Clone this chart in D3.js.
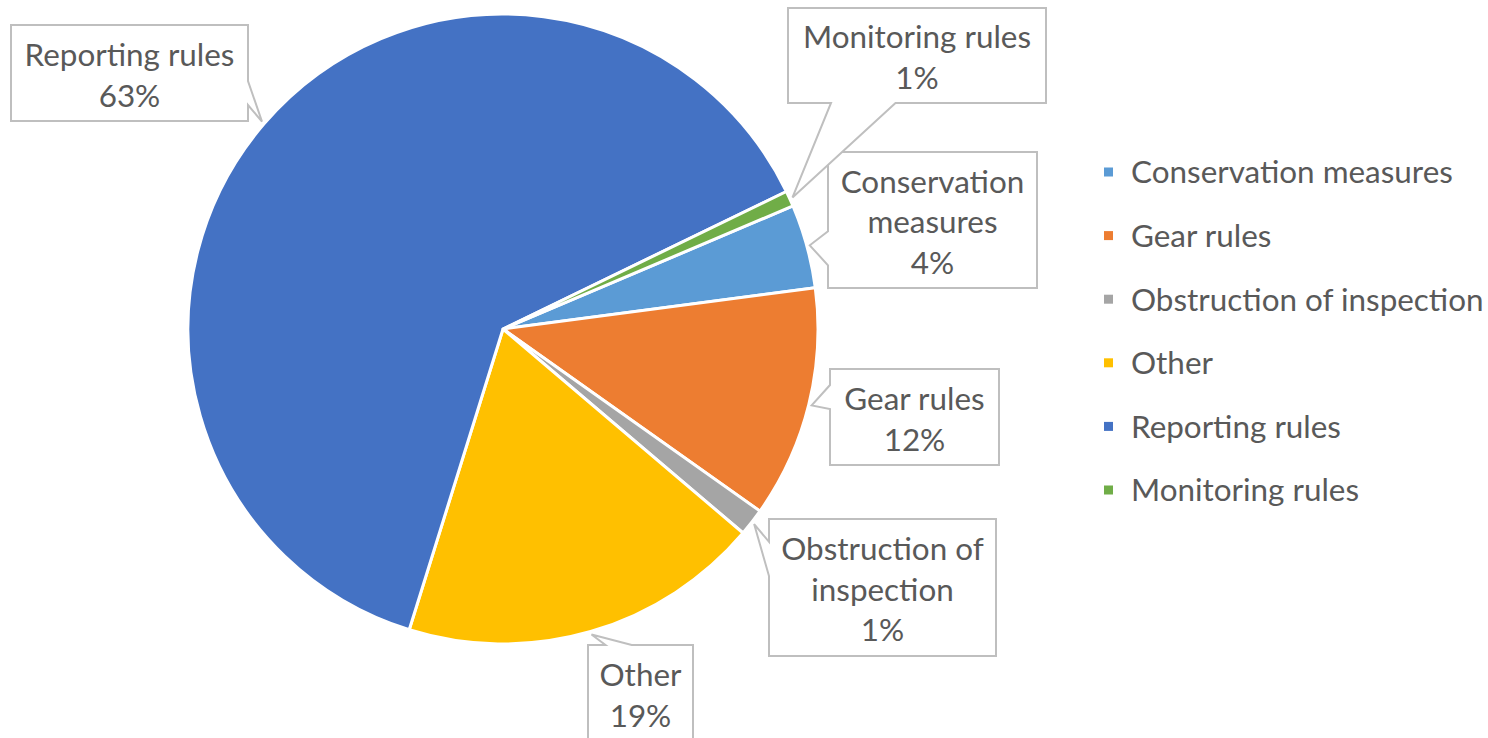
<!doctype html>
<html>
<head>
<meta charset="UTF-8">
<title>Infringements by type</title>
<script src="https://d3js.org/d3.v7.min.js"></script>
<style>
  body { margin: 0; background: #fff; }
  text { font-family: Lato, "Open Sans", sans-serif; fill: #595959; }
</style>
</head>
<body>
<script>
var categories = ["Conservation measures", "Gear rules", "Obstruction of inspection", "Other", "Reporting rules", "Monitoring rules"];
var shares = [4.3, 11.9, 1.4, 18.6, 63.0, 0.8];
var colors = ["#5B9BD5", "#ED7D31", "#A5A5A5", "#FFC000", "#4472C4", "#70AD47"];

// label box layout: x, y, width, height
var boxes = [
  [828, 152, 209, 136],
  [830, 369, 169, 96],
  [769, 519, 227, 137],
  [588, 645, 105, 96],
  [11, 25, 237, 96],
  [788, 8, 258, 95]
];

var w = 1488, h = 738;
var cx = 503, cy = 329, r = 315;
var start = 67 * Math.PI / 180;

var svg = d3.select("body").append("svg")
  .attr("width", w)
  .attr("height", h);

// font size so text widths match the picture
var probe = svg.append("text").style("font-size", "40px").text("Conservation measures");
var fs = 40 * 322 / probe.node().getComputedTextLength();
probe.remove();

var data = categories.map(function (c, i) {
  return { name: c, value: shares[i], color: colors[i], box: boxes[i] };
});

var pie = d3.pie().sort(null).value(function (d) { return d.value; })
  .startAngle(start).endAngle(start + 2 * Math.PI);
var arc = d3.arc().innerRadius(0).outerRadius(r);
var arcs = pie(data);

var g = svg.append("g").attr("transform", "translate(" + cx + "," + cy + ")");
g.selectAll("path")
  .data(arcs)
  .enter()
  .append("path")
  .attr("d", arc)
  .attr("fill", function (d) { return d.data.color; })
  .attr("stroke", "#fff")
  .attr("stroke-width", 3)
  .attr("stroke-linejoin", "round");

// rectangle callout with a wedge pointing at the slice
function callout(b, tip) {
  var x = b[0], y = b[1], bw = b[2], bh = b[3];
  var tx = tip[0], ty = tip[1];
  var dx = tx - (x + bw / 2), dy = ty - (y + bh / 2);
  var p;
  if (Math.abs(dx) * bh > Math.abs(dy) * bw) {
    var y1 = dy < 0 ? y + bh * 2 / 12 : y + bh * 7 / 12;
    var y2 = dy < 0 ? y + bh * 5 / 12 : y + bh * 10 / 12;
    if (dx < 0) p = [[x, y], [x + bw, y], [x + bw, y + bh], [x, y + bh], [x, y2], [tx, ty], [x, y1]];
    else p = [[x, y], [x + bw, y], [x + bw, y1], [tx, ty], [x + bw, y2], [x + bw, y + bh], [x, y + bh]];
  } else {
    var x1 = dx < 0 ? x + bw * 2 / 12 : x + bw * 7 / 12;
    var x2 = dx < 0 ? x + bw * 5 / 12 : x + bw * 10 / 12;
    if (dy < 0) p = [[x, y], [x1, y], [tx, ty], [x2, y], [x + bw, y], [x + bw, y + bh], [x, y + bh]];
    else p = [[x, y], [x + bw, y], [x + bw, y + bh], [x2, y + bh], [tx, ty], [x1, y + bh], [x, y + bh]];
  }
  return "M" + p.join("L") + "Z";
}

function wrap(text, maxW) {
  var words = text.split(" "), lines = [], cur = "";
  var t = svg.append("text").style("font-size", fs + "px");
  words.forEach(function (wd) {
    var test = cur ? cur + " " + wd : wd;
    t.text(test);
    if (t.node().getComputedTextLength() > maxW && cur) {
      lines.push(cur);
      cur = wd;
    } else {
      cur = test;
    }
  });
  lines.push(cur);
  t.remove();
  return lines;
}

var lineH = 40.7;
var labels = svg.append("g");
arcs.forEach(function (d) {
  var a = (d.startAngle + d.endAngle) / 2;
  var tip = [cx + (r + 3) * Math.sin(a), cy - (r + 3) * Math.cos(a)];
  var b = d.data.box;
  labels.append("path")
    .attr("d", callout(b, tip))
    .attr("fill", "#fff")
    .attr("stroke", "#BFBFBF")
    .attr("stroke-width", 2);
  var lines = wrap(d.data.name, b[2] - 14);
  lines.push(Math.round(d.data.value) + "%");
  var y0 = b[1] + b[3] / 2 - (lines.length - 1) * lineH / 2;
  labels.append("text")
    .attr("text-anchor", "middle")
    .style("font-size", fs + "px")
    .selectAll("tspan")
    .data(lines)
    .enter()
    .append("tspan")
    .attr("x", b[0] + b[2] / 2)
    .attr("y", function (l, i) { return y0 + i * lineH; })
    .attr("dy", "0.42em")
    .text(function (l) { return l; });
});

// legend
var ly = d3.scalePoint().domain(categories).range([172, 490]);
var legend = svg.append("g").selectAll("g")
  .data(data)
  .enter()
  .append("g")
  .attr("transform", function (d) { return "translate(1104," + ly(d.name) + ")"; });
legend.append("rect")
  .attr("x", 0).attr("y", -4.5)
  .attr("width", 9).attr("height", 9)
  .attr("fill", function (d) { return d.color; });
legend.append("text")
  .attr("x", 27)
  .attr("dy", "0.36em")
  .style("font-size", fs + "px")
  .text(function (d) { return d.name; });
</script>
</body>
</html>
